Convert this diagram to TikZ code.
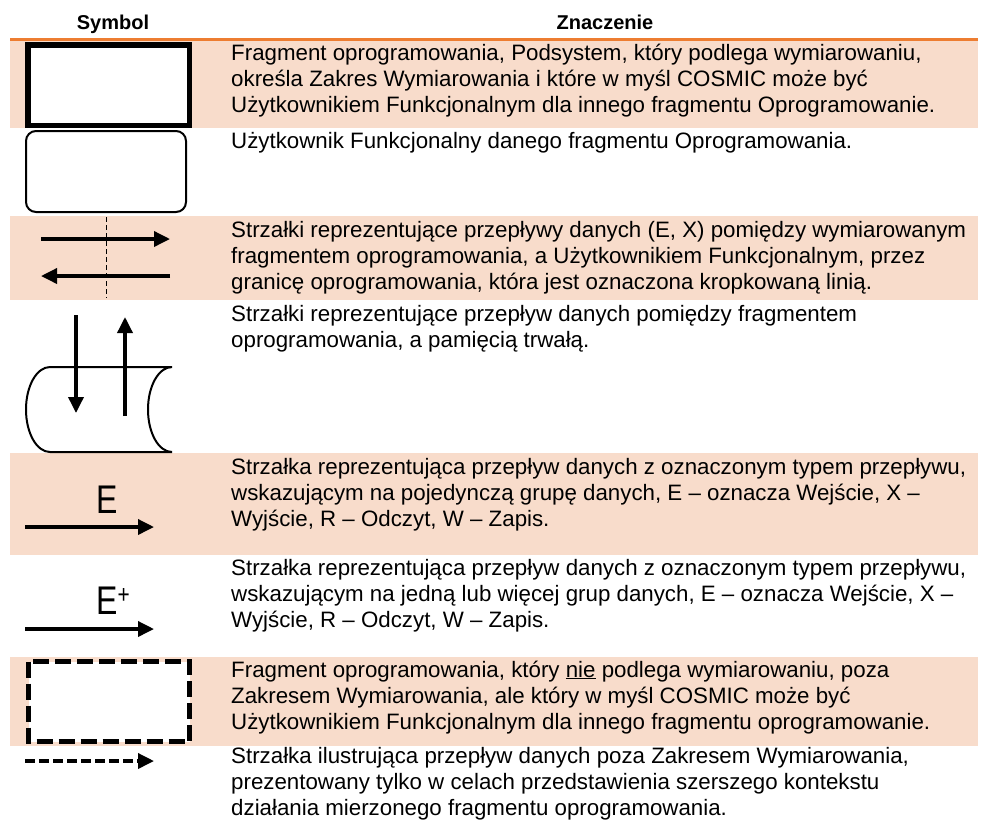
\documentclass[tikz,border=0pt]{standalone}
\usepackage{fontspec}
\setmainfont{Liberation Sans}
\newfontfamily\narrowsans[FakeStretch=0.8]{Liberation Sans}
\usetikzlibrary{arrows.meta}
\definecolor{bandpink}{HTML}{F8DCCB}
\definecolor{ruleorange}{HTML}{ED7D31}

\begin{document}
\begin{tikzpicture}[x=1pt,y=-1pt,
    desc/.style = {anchor=base west, inner sep=0pt, align=left,
        font=\fontsize{22.3}{26.2}\selectfont},
    head/.style = {anchor=base, inner sep=0pt, font=\fontsize{20}{24}\selectfont\bfseries},
    flow/.style = {line width=3.5pt, -{Triangle[length=16pt,width=15pt]}},
    letter/.style = {anchor=base west, inner sep=0pt, font=\fontsize{40}{44}\narrowsans}
  ]
  \useasboundingbox (0,0) rectangle (981,823);
  \foreach \top/\bot in {40/128, 216/300, 453/555, 657/746}{ % shaded rows
      \fill[bandpink] (10,\top) rectangle (978,\bot);
    }
  \draw[ruleorange, line width=3pt] (10,39) -- (978,39);
  \node[head] (hSym) at (113,29) {Symbol};
  \node[head] (hMean) at (605,29) {Znaczenie};

  % symbols
  \draw[line width=5.5pt, fill=white] (27.75,44.75) rectangle (189.25,125.25);
  \draw[line width=2pt, fill=white, rounded corners=10pt] (26,131) rectangle (186,212);
  \draw[line width=1pt, dash pattern=on 5pt off 3pt] (106,217) -- (106,298);
  \draw[flow] (41,239) -- (170,239);
  \draw[flow] (170,276) -- (41,276);
  \draw[line width=2pt, fill=white] (50,367) -- (172,367)
    .. controls (158.7,367) and (148,386) .. (148,409.5)
    .. controls (148,433) and (158.7,452) .. (172,452) -- (50,452)
    .. controls (36.7,452) and (26,433) .. (26,409.5)
    .. controls (26,386) and (36.7,367) .. (50,367) -- cycle;
  \draw[flow] (76,315) -- (76,413);
  \draw[flow] (125,416) -- (125,317);
  \node[letter] (lblE) at (96,513) {E};
  \draw[flow] (25,527) -- (154,527);
  \node[letter] (lblEplus) at (96,614) {E\raisebox{11pt}{\fontsize{26}{28}\selectfont +}};
  \draw[flow] (25,629) -- (154,629);
  \draw[line width=5pt, dash pattern=on 16pt off 6pt, fill=white] (28.5,661.5) rectangle (189.5,741.5);
  \draw[flow, dash pattern=on 10pt off 4pt] (25,761) -- (154,761);

  % meanings (anchored at the baseline of the last line)
  \node[desc] (txt1) at (231,112.4) {Fragment oprogramowania, Podsystem, który podlega wymiarowaniu,\\
    określa Zakres Wymiarowania i które w myśl COSMIC może być\\
    Użytkownikiem Funkcjonalnym dla innego fragmentu Oprogramowanie.};
  \node[desc] (txt2) at (231,148) {Użytkownik Funkcjonalny danego fragmentu Oprogramowania.};
  \node[desc] (txt3) at (231,289.4) {Strzałki reprezentujące przepływy danych (E, X) pomiędzy wymiarowanym\\
    fragmentem oprogramowania, a Użytkownikiem Funkcjonalnym, przez\\
    granicę oprogramowania, która jest oznaczona kropkowaną linią.};
  \node[desc] (txt4) at (231,347.2) {Strzałki reprezentujące przepływ danych pomiędzy fragmentem\\
    oprogramowania, a pamięcią trwałą.};
  \node[desc] (txt5) at (231,526.4) {Strzałka reprezentująca przepływ danych z oznaczonym typem przepływu,\\
    wskazującym na pojedynczą grupę danych, E – oznacza Wejście, X –\\
    Wyjście, R – Odczyt, W – Zapis.};
  \node[desc] (txt6) at (231,627.4) {Strzałka reprezentująca przepływ danych z oznaczonym typem przepływu,\\
    wskazującym na jedną lub więcej grup danych, E – oznacza Wejście, X –\\
    Wyjście, R – Odczyt, W – Zapis.};
  \node[desc] (txt7) at (231,729.4) {Fragment oprogramowania, który \underline{nie} podlega wymiarowaniu, poza\\
    Zakresem Wymiarowania, ale który w myśl COSMIC może być\\
    Użytkownikiem Funkcjonalnym dla innego fragmentu oprogramowanie.};
  \node[desc] (txt8) at (231,815.4) {Strzałka ilustrująca przepływ danych poza Zakresem Wymiarowania,\\
    prezentowany tylko w celach przedstawienia szerszego kontekstu\\
    działania mierzonego fragmentu oprogramowania.};
\end{tikzpicture}
\end{document}
